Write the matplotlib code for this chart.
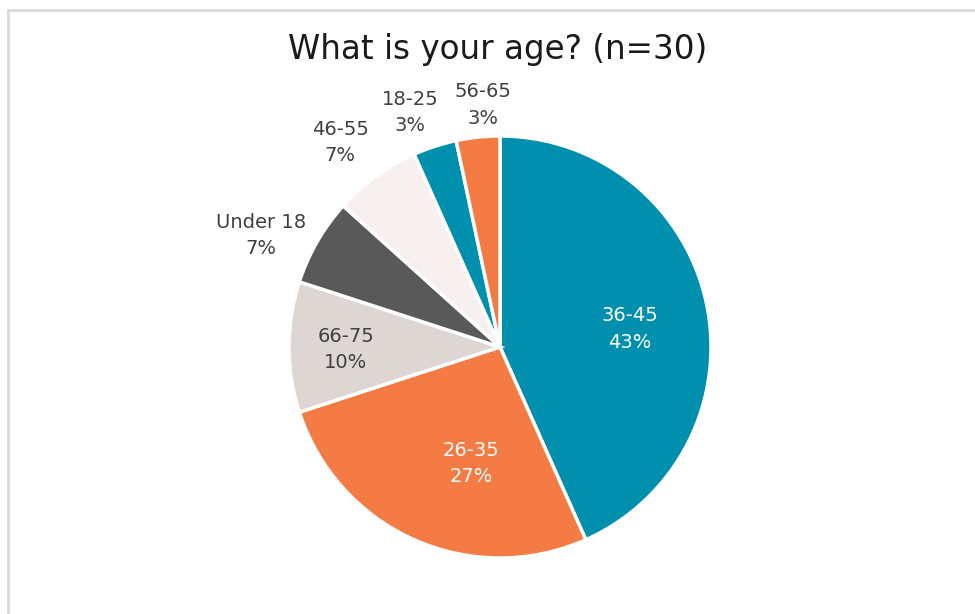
import matplotlib
matplotlib.use("Agg")
import matplotlib.pyplot as plt
import numpy as np

# survey answers, n=30
categories = ["36-45", "26-35", "66-75", "Under 18", "46-55", "18-25", "56-65"]
counts = [13, 8, 3, 2, 2, 1, 1]
colors = ["#008FAD", "#F47B43", "#DDD6D2", "#595959", "#F7F0EE", "#008FAD", "#F47B43"]
label_colors = ["white", "white", "#404040", "#404040", "#404040", "#404040", "#404040"]
label_r = [0.62, 0.57, 0.73, 1.25, 1.23, 1.19, 1.15]
label_nudge = [-4, 10, 1, 5, 2, 3, -2]

plt.rcParams["font.family"] = ["DejaVu Sans"]

fig = plt.figure(figsize=(9.75, 6.14), dpi=100)
fig.patches.append(plt.Rectangle((8 / 975, -0.01), 1.0, 1 - 9.5 / 614 + 0.01,
                                 transform=fig.transFigure, fill=False,
                                 edgecolor="#D9D9D9", linewidth=2))

R = 211
cx, cy = 500, 614 - 347
ax = fig.add_axes([(cx - R) / 975, (cy - R) / 614, 2 * R / 975, 2 * R / 614])
wedges, _ = ax.pie(counts, colors=colors, startangle=90, counterclock=False,
                   radius=1, wedgeprops=dict(edgecolor="white", linewidth=2.5))
ax.set_xlim(-1, 1)
ax.set_ylim(-1, 1)
ax.set_aspect("equal")
ax.axis("off")

total = sum(counts)
for w, cat, n, c, r, dn in zip(wedges, categories, counts, label_colors, label_r, label_nudge):
    ang = np.deg2rad((w.theta1 + w.theta2) / 2 + dn)
    pct = f"{round(100 * n / total)}%"
    ax.text(r * np.cos(ang), r * np.sin(ang), f"{cat}\n{pct}", color=c,
            ha="center", va="center", fontsize=14, linespacing=1.5, clip_on=False)

fig.text(498 / 975, 1 - 49 / 614, "What is your age? (n=30)", ha="center", va="center",
         fontsize=23.5, color="#1a1a1a")

fig.savefig("out.png", dpi=100)
